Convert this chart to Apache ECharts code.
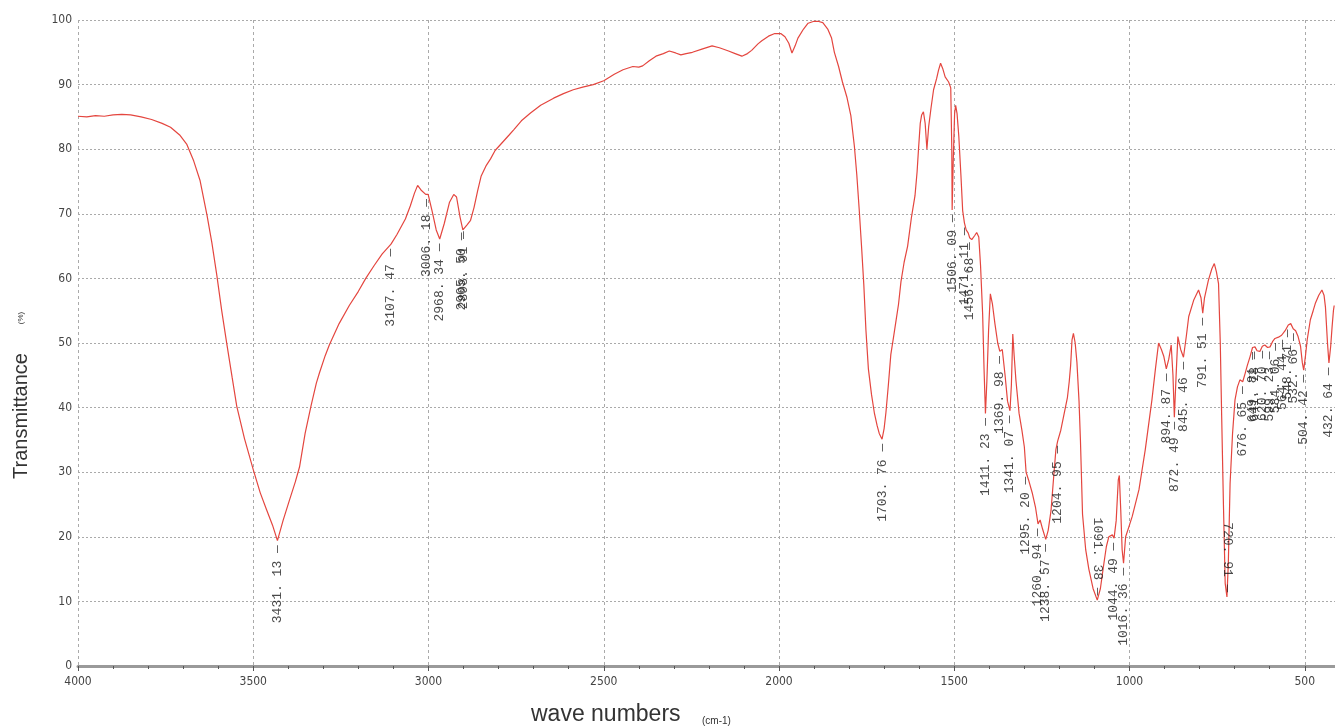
<!DOCTYPE html>
<html lang="en">
<head>
<meta charset="UTF-8">
<title>IR spectrum</title>
<script src="https://cdn.jsdelivr.net/npm/echarts@6/dist/echarts.min.js"></script>
<style>
  html, body { margin: 0; padding: 0; background: #fff; }
  #chart { width: 1335px; height: 728px; }
</style>
</head>
<body>
<div id="chart"></div>
<script>
// spectrum (wave number, transmittance %)
var waveNumbers = [
  4000, 3975, 3950, 3925, 3900, 3875, 3850, 3820, 3790, 3760, 3736, 3710, 3690, 3670, 3652, 3632, 3618, 3604, 3590, 3575,
  3560, 3547, 3525, 3500, 3480, 3462, 3445, 3431, 3415, 3396, 3380, 3368, 3352, 3335, 3320, 3311, 3295, 3283, 3255, 3226,
  3200, 3179, 3155, 3132, 3107, 3090, 3066, 3052, 3040, 3031, 3020, 3008, 3001, 2990, 2978, 2968, 2955, 2940, 2928, 2920,
  2910, 2902, 2890, 2880, 2870, 2860, 2850, 2835, 2823, 2810, 2790, 2770, 2757, 2735, 2709, 2680, 2643, 2615, 2587, 2560,
  2530, 2500, 2470, 2445, 2417, 2400, 2389, 2370, 2351, 2330, 2313, 2295, 2280, 2265, 2247, 2220, 2191, 2170, 2144, 2125,
  2106, 2090, 2078, 2060, 2049, 2030, 2012, 1995, 1983, 1972, 1963, 1954, 1946, 1930, 1917, 1900, 1889, 1875, 1861, 1850,
  1842, 1830, 1819, 1806, 1795, 1785, 1778, 1771, 1764, 1758, 1752, 1745, 1736, 1728, 1720, 1714, 1706, 1700, 1695, 1688,
  1681, 1673, 1666, 1659, 1652, 1643, 1633, 1622, 1612, 1606, 1602, 1597, 1593, 1588, 1583, 1578, 1573, 1566, 1559, 1550,
  1545, 1539, 1533, 1526, 1516, 1510, 1507, 1506, 1503, 1499, 1496, 1492, 1487, 1481, 1476, 1471, 1466, 1460, 1456, 1450,
  1442, 1436, 1430, 1425, 1419, 1415, 1411, 1407, 1402, 1397, 1391, 1384, 1376, 1370, 1363, 1355, 1348, 1341, 1337, 1333,
  1329, 1324, 1315, 1307, 1300, 1295, 1288, 1277, 1268, 1261, 1255, 1248, 1239, 1232, 1224, 1216, 1210, 1205, 1196, 1186,
  1177, 1172, 1168, 1164, 1160, 1155, 1150, 1144, 1140, 1134, 1125, 1116, 1104, 1092, 1083, 1073, 1066, 1059, 1049, 1044,
  1038, 1032, 1029, 1025, 1021, 1017, 1011, 1002, 992, 973, 955, 936, 926, 917, 909, 902, 895, 888, 881, 876,
  872, 867, 862, 854, 846, 838, 831, 817, 803, 796, 791, 786, 775, 765, 758, 752, 746, 741, 737, 732,
  727, 722, 718, 713, 706, 699, 692, 685, 677, 670, 664, 656, 649, 642, 636, 628, 621, 614, 606, 599,
  592, 585, 575, 566, 556, 547, 540, 533, 526, 519, 512, 507, 503, 498, 493, 484, 476, 470, 460, 451,
  445, 441, 435, 431, 426, 422, 418, 416
];
var transmittance = [
  85.1, 85.0, 85.2, 85.1, 85.3, 85.4, 85.3, 85.0, 84.6, 84.0, 83.4, 82.2, 80.8, 78.2, 75.2, 69.8, 65.5, 60.5, 55.0, 49.7,
  44.6, 40.2, 35.2, 30.4, 26.8, 24.2, 21.8, 19.4, 22.5, 25.8, 28.5, 30.8, 36.0, 40.3, 43.8, 45.4, 48.0, 49.7, 53.0, 55.8,
  58.0, 60.0, 62.0, 63.8, 65.3, 66.8, 69.2, 71.2, 73.2, 74.4, 73.6, 73.0, 73.0, 70.5, 67.5, 66.1, 68.5, 71.8, 73.0, 72.6,
  69.5, 67.5, 68.3, 69.0, 71.0, 73.5, 75.8, 77.5, 78.5, 79.8, 81.0, 82.2, 83.0, 84.4, 85.6, 86.8, 87.9, 88.6, 89.2, 89.6,
  90.0, 90.6, 91.6, 92.3, 92.8, 92.7, 92.9, 93.7, 94.4, 94.8, 95.2, 94.9, 94.6, 94.8, 95.0, 95.5, 96.0, 95.7, 95.2, 94.8,
  94.4, 94.8, 95.3, 96.3, 96.8, 97.5, 97.9, 97.9, 97.4, 96.4, 94.9, 96.0, 97.2, 98.6, 99.5, 99.8, 99.8, 99.6, 98.6, 97.2,
  95.0, 92.8, 90.4, 88.0, 85.2, 80.5, 76.0, 70.5, 64.5, 59.0, 52.0, 46.0, 42.0, 39.2, 37.2, 36.0, 35.1, 36.8, 39.2, 43.5,
  48.2, 51.0, 53.5, 56.0, 59.5, 62.5, 65.0, 69.5, 72.8, 76.5, 80.0, 84.0, 85.3, 85.8, 84.0, 80.0, 83.5, 86.5, 89.2, 91.0,
  92.2, 93.3, 92.5, 91.2, 90.4, 89.5, 80.0, 70.6, 78.0, 85.5, 86.8, 85.5, 82.0, 76.0, 70.5, 68.6, 67.5, 67.0, 66.3, 66.0,
  66.6, 67.1, 66.4, 62.0, 54.5, 46.0, 39.1, 44.0, 52.0, 57.6, 56.0, 53.0, 50.0, 48.7, 49.0, 45.0, 41.0, 39.5, 43.5, 51.4,
  48.0, 44.2, 39.1, 36.5, 33.9, 30.0, 28.8, 26.7, 24.5, 22.0, 22.6, 21.2, 19.6, 21.0, 24.0, 29.5, 33.5, 34.8, 36.5, 39.2,
  41.6, 44.0, 46.5, 50.5, 51.5, 50.0, 47.0, 41.0, 35.0, 23.5, 18.0, 15.0, 12.0, 10.2, 12.0, 15.9, 18.5, 20.0, 20.3, 19.8,
  22.5, 28.8, 29.5, 24.2, 18.0, 15.9, 20.0, 21.5, 23.2, 27.3, 33.5, 41.2, 46.0, 50.0, 49.0, 47.9, 46.0, 47.5, 49.7, 45.0,
  38.5, 45.0, 51.0, 49.0, 47.8, 51.0, 54.1, 56.6, 58.2, 57.0, 54.6, 57.0, 59.7, 61.5, 62.3, 61.0, 59.2, 50.0, 38.6, 25.0,
  12.8, 10.7, 16.0, 28.3, 36.0, 41.2, 43.2, 44.3, 44.0, 45.3, 46.5, 47.9, 49.3, 49.4, 48.8, 48.7, 49.5, 49.7, 49.3, 49.4,
  50.2, 50.7, 50.9, 51.2, 51.9, 52.8, 53.0, 52.2, 51.9, 51.0, 49.5, 47.0, 45.8, 48.0, 50.5, 53.6, 55.0, 56.1, 57.4, 58.2,
  57.4, 55.6, 49.9, 46.9, 49.5, 52.5, 55.1, 55.8
];

// marked peaks
var peakWaveNumbers = [
  3431.13, 3107.47, 3006.18, 2968.34, 2905.50, 2898.91, 1703.76, 1506.09, 1471.11, 1456.68,
  1411.23, 1369.98, 1341.07, 1295.20, 1260.94, 1238.57, 1204.95, 1091.38, 1044.49, 1016.36,
  894.87, 872.49, 845.46, 791.51, 720.91, 676.65, 649.81, 641.78, 620.70, 599.23,
  584.06, 564.44, 548.71, 532.66, 504.42, 432.64
];
var peakTransmittance = [
  19.4, 65.3, 73.0, 66.1, 67.8, 68.0, 35.1, 70.6, 68.6, 66.3,
  39.1, 48.7, 39.5, 30.0, 22.0, 19.6, 34.8, 10.2, 19.8, 15.9,
  46.0, 38.5, 47.8, 54.6, 10.7, 44.0, 49.3, 49.4, 49.5, 49.4,
  50.7, 51.2, 52.8, 52.2, 45.8, 46.9
];

var xTicks = { min: 0, max: 4000, step: 500 };
var yTicks = { min: 0, max: 100, step: 10 };

var spectrum = waveNumbers.map(function (w, i) { return [w, transmittance[i]]; });

var tickFont = '"Liberation Sans Narrow", "DejaVu Sans Condensed", "Liberation Sans", sans-serif';

var peakData = peakWaveNumbers.map(function (w, i) {
  var t = peakTransmittance[i];
  var item = { value: [w, t] };
  if (t < 12) {
    // deep minima: label goes above the point
    item.label = { position: 'top', rotate: -90, align: 'right', verticalAlign: 'middle', distance: 4 };
  }
  return item;
});

var chart = echarts.init(document.getElementById('chart'));
chart.setOption({
  animation: false,
  backgroundColor: '#fff',
  // the plot runs on past the right edge of the picture (the 0 end is cut off)
  grid: { left: 78, right: -145, top: 20, bottom: 62, outerBoundsMode: 'none', containLabel: false },
  xAxis: {
    type: 'value',
    min: xTicks.min,
    max: xTicks.max,
    interval: xTicks.step,
    inverse: true,
    axisLine: { show: true, lineStyle: { color: '#9a9a9a', width: 3 } },
    axisTick: { show: true, length: 5, lineStyle: { color: '#555' } },
    minorTick: { show: true, splitNumber: 5, length: 3, lineStyle: { color: '#555' } },
    axisLabel: {
      color: '#444', fontSize: 12, fontFamily: tickFont, margin: 10,
      formatter: function (v) { return String(v); }
    },
    splitLine: { show: true, lineStyle: { color: '#aaa', type: [3, 3], width: 1 } }
  },
  yAxis: {
    type: 'value',
    min: yTicks.min,
    max: yTicks.max,
    interval: yTicks.step,
    axisLine: { show: true, lineStyle: { color: '#666', width: 1 } },
    axisTick: { show: true, length: 4, lineStyle: { color: '#555' } },
    minorTick: { show: true, splitNumber: 5, length: 3, lineStyle: { color: '#555' } },
    axisLabel: { color: '#444', fontSize: 12, fontFamily: tickFont, margin: 6 },
    splitLine: { show: true, lineStyle: { color: '#aaa', type: [2, 2], width: 1 } }
  },
  series: [
    {
      type: 'line',
      data: spectrum,
      showSymbol: false,
      smooth: false,
      lineStyle: { color: '#e4463f', width: 1.2 },
      z: 3
    },
    {
      type: 'scatter',
      data: peakData,
      symbolSize: 1,
      itemStyle: { color: 'rgba(0,0,0,0)' },
      z: 4,
      label: {
        show: true,
        position: 'bottom',
        distance: 4,
        rotate: 90,
        align: 'right',
        verticalAlign: 'middle',
        color: '#1a1a1a',
        fontSize: 13,
        fontFamily: '"Liberation Mono", "DejaVu Sans Mono", monospace',
        formatter: function (p) { return p.value[0].toFixed(2).replace('.', '. ') + ' \u2014'; }
      }
    }
  ],
  graphic: [
    {
      type: 'text', x: 21, y: 416, rotation: Math.PI / 2,
      style: { text: 'Transmittance', font: '20px "Liberation Sans", Arial, sans-serif', fill: '#333', align: 'center', verticalAlign: 'middle' }
    },
    {
      type: 'text', x: 21, y: 318, rotation: Math.PI / 2,
      style: { text: '(%)', font: '8px "Liberation Sans", Arial, sans-serif', fill: '#333', align: 'center', verticalAlign: 'middle' }
    },
    {
      type: 'text', x: 531, y: 726,
      style: { text: 'wave numbers', font: '23px "Liberation Sans", Arial, sans-serif', fill: '#333', align: 'left', verticalAlign: 'bottom' }
    },
    {
      type: 'text', x: 702, y: 726,
      style: { text: '(cm-1)', font: '10px "Liberation Sans", Arial, sans-serif', fill: '#333', align: 'left', verticalAlign: 'bottom' }
    }
  ]
});
</script>
</body>
</html>
